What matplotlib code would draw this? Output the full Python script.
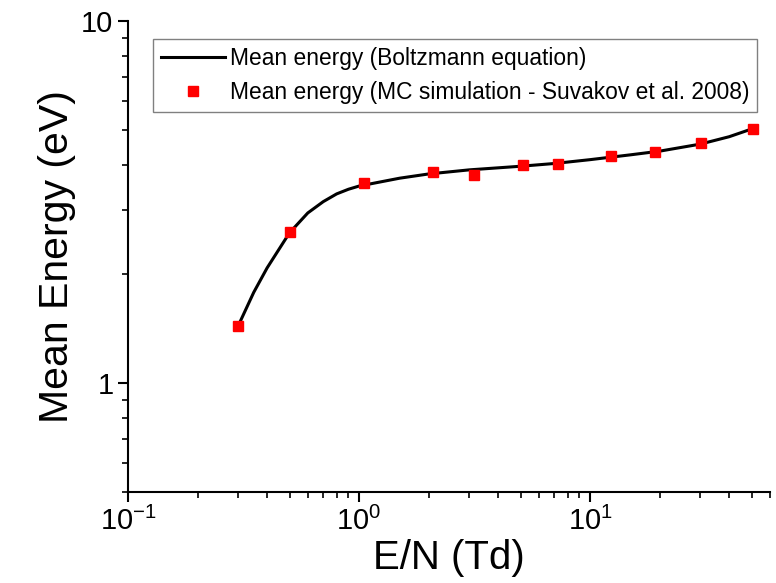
import matplotlib
matplotlib.use("Agg")
import matplotlib.pyplot as plt
from matplotlib.ticker import LogLocator, FixedLocator, FixedFormatter, NullFormatter

plt.rcParams['font.family'] = ['Liberation Sans', 'DejaVu Sans']
plt.rcParams['mathtext.fontset'] = 'custom'
plt.rcParams['mathtext.rm'] = 'Liberation Sans'

# Boltzmann equation curve
en_line = [0.3, 0.35, 0.4, 0.5, 0.6, 0.7, 0.8, 0.9, 1.0, 1.5, 2.0, 3.0, 5.0, 7.0, 10.0, 15.0, 20.0, 30.0, 40.0, 50.0]
energy_line = [1.44, 1.78, 2.08, 2.6, 2.95, 3.17, 3.33, 3.43, 3.5, 3.68, 3.78, 3.88, 3.97, 4.04, 4.14, 4.27, 4.37, 4.57, 4.79, 5.03]

# MC simulation points
en_mc = [0.3, 0.5, 1.05, 2.09, 3.15, 5.14, 7.3, 12.3, 19.2, 30.2, 50.8]
energy_mc = [1.44, 2.61, 3.57, 3.83, 3.76, 4.0, 4.02, 4.24, 4.35, 4.6, 5.03]

fig = plt.figure(figsize=(7.76, 5.83), dpi=100)
ax = fig.add_axes([0.165, 0.156, 0.827, 0.808])

ax.plot(en_line, energy_line, color='black', lw=2.2, label='Mean energy (Boltzmann equation)')
ax.plot(en_mc, energy_mc, 's', color='red', ms=7, mec='red',
        label='Mean energy (MC simulation - Suvakov et al. 2008)')

ax.set_xscale('log')
ax.set_yscale('log')
ax.set_xlim(0.1, 60)
ax.set_ylim(0.5, 10)

ax.spines['top'].set_visible(False)
ax.spines['right'].set_visible(False)
ax.spines['left'].set_linewidth(1.5)
ax.spines['bottom'].set_linewidth(1.5)

ax.xaxis.set_major_locator(FixedLocator([0.1, 1, 10]))
ax.xaxis.set_major_formatter(FixedFormatter([r'$\mathregular{10^{-1}}$', r'$\mathregular{10^{0}}$', r'$\mathregular{10^{1}}$']))
ax.xaxis.set_minor_locator(LogLocator(base=10, subs=range(2, 10)))
ax.xaxis.set_minor_formatter(NullFormatter())

ax.yaxis.set_major_locator(FixedLocator([1, 10]))
ax.yaxis.set_major_formatter(FixedFormatter(['1', '10']))
ax.yaxis.set_minor_locator(LogLocator(base=10, subs=range(2, 10)))
ax.yaxis.set_minor_formatter(NullFormatter())

ax.tick_params(which='major', direction='out', length=7, width=1.5, labelsize=21)
ax.tick_params(which='minor', direction='out', length=4, width=1.2)

ax.set_xlabel('E/N (Td)', fontsize=29, labelpad=2)
ax.set_ylabel('Mean Energy (eV)', fontsize=29.5, labelpad=4)

leg = ax.legend(loc='upper right', bbox_to_anchor=(0.998, 0.985), fontsize=16.4,
                fancybox=False, edgecolor='gray', framealpha=1,
                handlelength=2.8, borderpad=0.35, labelspacing=0.45, handletextpad=0.2)
leg.get_frame().set_linewidth(1)

fig.savefig('out.png', dpi=100)
